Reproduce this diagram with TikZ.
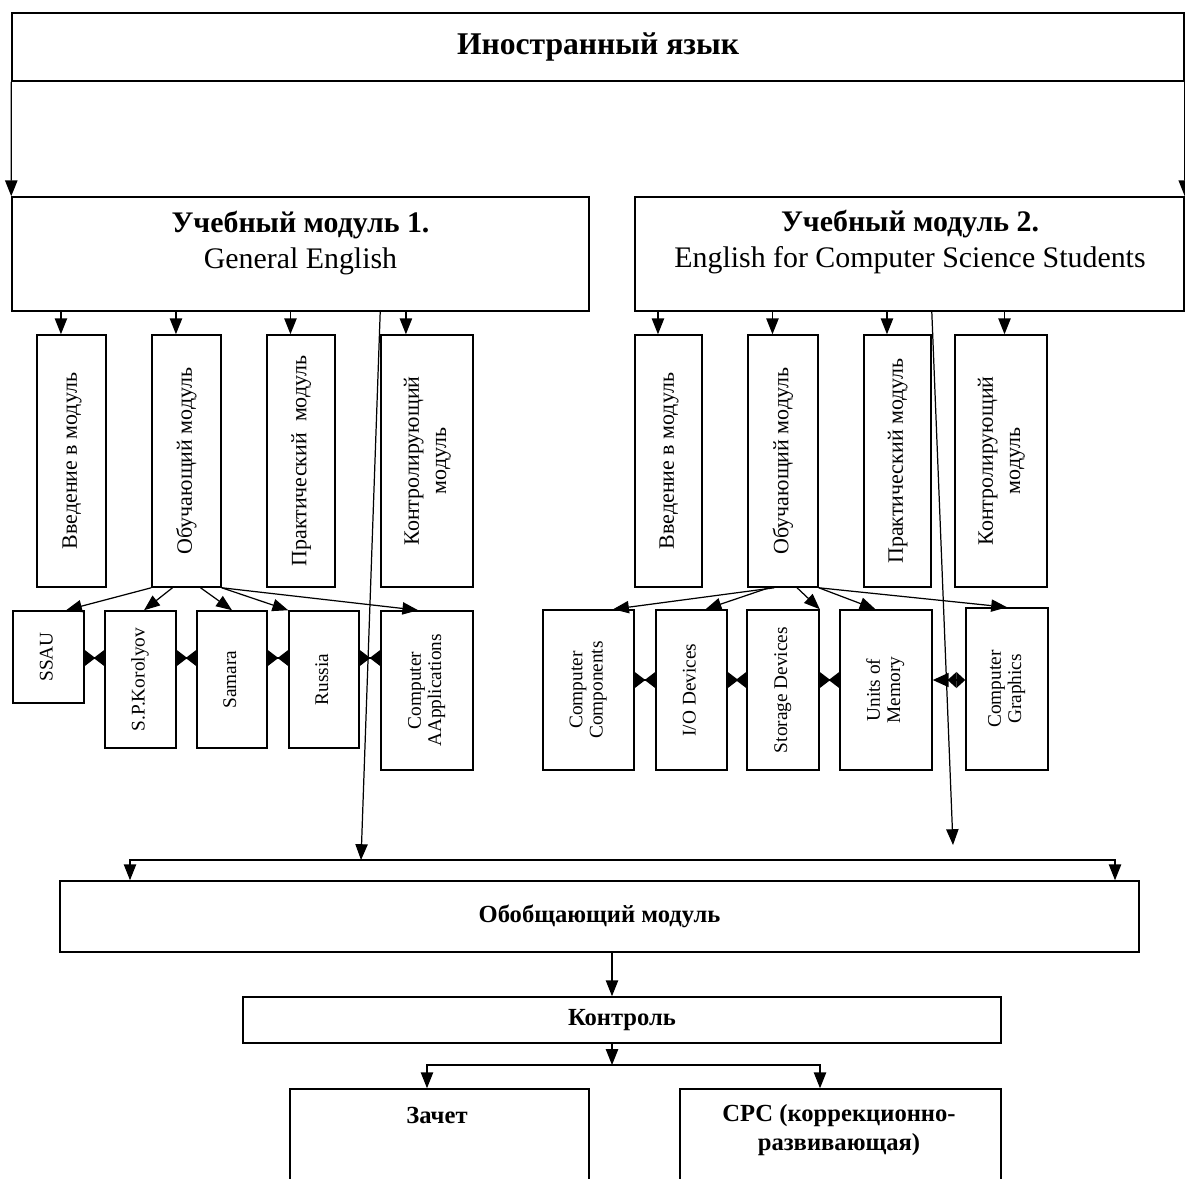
\documentclass[tikz,border=0pt]{standalone}
\usepackage{fontspec}
\setmainfont{Liberation Serif}
\usepackage{graphicx}
\usetikzlibrary{arrows.meta}

\newcommand{\vlab}[1]{\rotatebox{90}{\begin{tabular}{@{}c@{}}#1\end{tabular}}}

\tikzset{
  box/.style={draw,line width=0.9pt,fill=white,inner sep=0pt},
  head/.style={align=center,inner sep=0pt,font=\fontsize{17}{21}\selectfont},
  sub/.style={box,minimum height=5.04cm,font=\fontsize{12.5}{15.5}\selectfont},
  leaf/.style={box,font=\fontsize{11}{11.5}\selectfont},
  btext/.style={font=\fontsize{14}{17}\selectfont\bfseries},
  tie/.style={arrows={Triangle[reversed,length=6pt,width=9pt]-Triangle[reversed,length=6pt,width=9pt]}}
}

\begin{document}
\begin{tikzpicture}[x=0.02cm,y=-0.02cm,line width=0.7pt,>={Triangle[length=9pt,width=7pt]}]
\useasboundingbox (0,0) rectangle (1185,1178);
\clip (0,0) rectangle (1185,1178);
% top and the two modules
\node[box,minimum width=23.44cm,minimum height=1.36cm,font=\fontsize{18}{22}\selectfont\bfseries] at (598,47) (lang) {Иностранный язык};
\node[box,minimum width=11.54cm,minimum height=2.28cm] at (300.5,254) (m1) {};
\node[box,minimum width=10.98cm,minimum height=2.28cm] at (909.5,254) (m2) {};
\node[head] at (300.5,243) (m1t) {\textbf{Учебный модуль 1.}\\General English};
\node[head] at (910,242) (m2t) {\textbf{Учебный модуль 2.}\\English for Computer Science Students};
% parts of each module
\node[sub,minimum width=1.38cm] at (71.5,461) (v1) {\vlab{Введение в модуль}};
\node[sub,minimum width=1.38cm] at (186.5,461) (v2) {\vlab{Обучающий модуль}};
\node[sub,minimum width=1.36cm] at (301,461) (v3) {\vlab{Практический\ \ модуль}};
\node[sub,minimum width=1.84cm] at (427,461) (v4) {\vlab{Контролирующий\\модуль}};
\node[sub,minimum width=1.34cm] at (668.5,461) (w1) {\vlab{Введение в модуль}};
\node[sub,minimum width=1.40cm] at (783,461) (w2) {\vlab{Обучающий модуль}};
\node[sub,minimum width=1.34cm] at (897.5,461) (w3) {\vlab{Практический модуль}};
\node[sub,minimum width=1.84cm] at (1001,461) (w4) {\vlab{Контролирующий\\модуль}};
% topics
\node[leaf,minimum width=1.42cm,minimum height=1.84cm] at (48.5,657) (l1) {\vlab{SSAU}};
\node[leaf,minimum width=1.42cm,minimum height=2.74cm] at (140.5,679.5) (l2) {\vlab{S.P.Korolyov}};
\node[leaf,minimum width=1.40cm,minimum height=2.74cm] at (232,679.5) (l3) {\vlab{Samara}};
\node[leaf,minimum width=1.40cm,minimum height=2.74cm] at (324,679.5) (l4) {\vlab{Russia}};
\node[leaf,minimum width=1.84cm,minimum height=3.18cm] at (427,690.5) (l5) {\vlab{Computer\\AApplications}};
\node[leaf,minimum width=1.82cm,minimum height=3.2cm] at (588.5,690) (k1) {\vlab{Computer\\Components}};
\node[leaf,minimum width=1.42cm,minimum height=3.2cm] at (691.5,690) (k2) {\vlab{I/O Devices}};
\node[leaf,minimum width=1.44cm,minimum height=3.2cm] at (783,690) (k3) {\vlab{Storage Devices}};
\node[leaf,minimum width=1.84cm,minimum height=3.2cm] at (886,690) (k4) {\vlab{Units of\\Memory}};
\node[leaf,minimum width=1.64cm,minimum height=3.24cm] at (1007,689) (k5) {\vlab{Computer\\Graphics}};
% bottom part
\node[box,minimum width=21.58cm,minimum height=1.42cm,btext] at (599.5,916.5) (gen) {Обобщающий модуль};
\node[box,minimum width=15.16cm,minimum height=0.92cm,btext] at (622,1020) (ctrl) {Контроль};
\node[box,minimum width=5.98cm,minimum height=2.22cm] at (439.5,1144.5) (zach) {};
\node[box,minimum width=6.42cm,minimum height=2.22cm] at (840.5,1144.5) (srs) {};
\node[btext,align=center] at (437,1115) (zacht) {Зачет};
\node[btext,align=center] at (839,1130) (srst) {СРС (коррекционно-\\развивающая)};
\coordinate (r1) at (0,658);
\coordinate (r2) at (0,680);
\coordinate (busL) at (130,860);
\coordinate (busR) at (1115,860);
\coordinate (j1) at (361,860);
\coordinate (j2) at (953,845);
\coordinate (fk) at (612,1065);
\coordinate (fkL) at (427,1065);
\coordinate (fkR) at (820,1065);
\draw[->] (lang.south west) -- (m1.north west);
\draw[->] (lang.south east) -- (m2.north east);
\draw[->] ([xshift=-6pt]v1.north |- m1.south) -- ([xshift=-6pt]v1.north);
\draw[->] ([xshift=-6pt]v2.north |- m1.south) -- ([xshift=-6pt]v2.north);
\draw[->] ([xshift=-6pt]v3.north |- m1.south) -- ([xshift=-6pt]v3.north);
\draw[->] ([xshift=-12pt]v4.north |- m1.south) -- ([xshift=-12pt]v4.north);
\draw[->] ([xshift=-6pt]w1.north |- m2.south) -- ([xshift=-6pt]w1.north);
\draw[->] ([xshift=-6pt]w2.north |- m2.south) -- ([xshift=-6pt]w2.north);
\draw[->] ([xshift=-6pt]w3.north |- m2.south) -- ([xshift=-6pt]w3.north);
\draw[->] ([xshift=2pt]w4.north |- m2.south) -- ([xshift=2pt]w4.north);
\draw[->] (v2.south west) -- ([xshift=10pt]l1.north);
\draw[->] ([xshift=-8pt]v2.south) -- ([xshift=2pt]l2.north);
\draw[->] ([xshift=8pt]v2.south) -- (l3.north);
\draw[->] (v2.south east) -- (l4.north west);
\draw[->] (v2.south east) -- ([xshift=-5pt]l5.north);
\draw[->] ([xshift=-5pt]w2.south) -- ([xshift=14pt]k1.north);
\draw[->] ([xshift=-8pt]w2.south) -- ([xshift=8pt]k2.north);
\draw[->] ([xshift=8pt]w2.south) -- (k3.north east);
\draw[->] (w2.south east) -- ([xshift=-6pt]k4.north);
\draw[->] (w2.south east) -- (k5.north);
\draw[tie] (l1.east |- r1) -- (l2.west |- r1);
\draw[tie] (l2.east |- r1) -- (l3.west |- r1);
\draw[tie] (l3.east |- r1) -- (l4.west |- r1);
\draw[tie] (l4.east |- r1) -- (l5.west |- r1);
\draw[tie] (k1.east |- r2) -- (k2.west |- r2);
\draw[tie] (k2.east |- r2) -- (k3.west |- r2);
\draw[tie] (k3.east |- r2) -- (k4.west |- r2);
\draw[{Triangle[length=9pt,width=8pt]}-{Triangle[reversed,length=5pt,width=9pt] Triangle[length=5pt,width=9pt]}] (k4.east |- r2) -- (k5.west |- r2);
\draw[->] (m1.south -| v4.west) -- (j1);
\draw[->] (m2.south -| w3.east) -- (j2);
\draw[<->] (gen.north -| busL) -- (busL) -- (busR) -- (gen.north -| busR);
\draw[->] (gen.south -| fk) -- (ctrl.north -| fk);
\draw[->] (ctrl.south -| fk) -- (fk);
\draw[<->] (zach.north -| fkL) -- (fkL) -- (fkR) -- (srs.north -| fkR);
\end{tikzpicture}
\end{document}
